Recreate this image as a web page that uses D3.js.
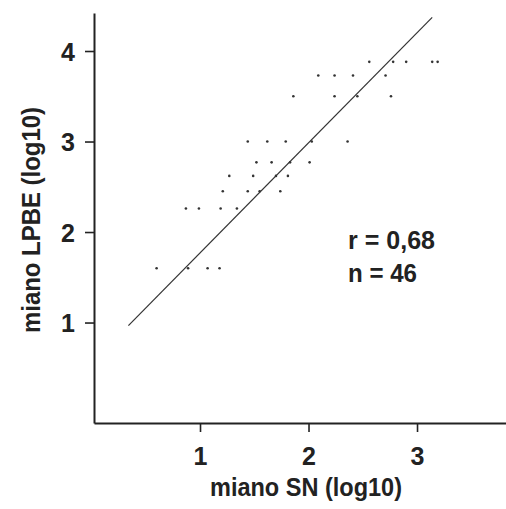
<!DOCTYPE html>
<html>
<head>
<meta charset="utf-8">
<script src="https://cdn.jsdelivr.net/npm/d3@7"></script>
<style>
  body { margin: 0; background: #fff; }
  svg text {
    font-family: "Liberation Sans", Arial, sans-serif;
    font-weight: bold;
    fill: #222;
  }
</style>
</head>
<body>
<svg id="chart" width="506" height="509"></svg>
<script>
// miano SN (log10) vs miano LPBE (log10)
const snValues = [
  2.56, 2.78, 2.90, 3.14, 3.19,
  2.09, 2.24, 2.41, 2.71,
  1.86, 2.24, 2.45, 2.76,
  1.44, 1.62, 1.79, 2.03, 2.36,
  1.52, 1.66, 1.83, 2.01,
  1.27, 1.49, 1.70, 1.81,
  1.21, 1.44, 1.55, 1.74,
  0.87, 0.99, 1.19, 1.34,
  0.60, 0.89, 1.07, 1.18
];
const lpbeValues = [
  3.88, 3.88, 3.88, 3.88, 3.88,
  3.73, 3.73, 3.73, 3.73,
  3.50, 3.50, 3.50, 3.50,
  3.00, 3.00, 3.00, 3.00, 3.00,
  2.77, 2.77, 2.77, 2.77,
  2.62, 2.62, 2.62, 2.62,
  2.45, 2.45, 2.45, 2.45,
  2.26, 2.26, 2.26, 2.26,
  1.60, 1.60, 1.60, 1.60
];
const xTicks = [1, 2, 3];
const yTicks = [1, 2, 3, 4];
const fitRange = [0.34, 3.14];
const fitIntercept = 0.553;
const fitSlope = 1.216;
const statsLines = ["r = 0,68", "n = 46"];
const xTitle = "miano SN (log10)";
const yTitle = "miano LPBE (log10)";

const svg = d3.select("#chart");
const margin = { left: 94, top: 13, right: 0, bottom: 86 };
const width = 506, height = 509;

const x = d3.scaleLinear()
  .domain([0.023, 3.82])
  .range([margin.left, width - margin.right]);
const y = d3.scaleLinear()
  .domain([-0.11, 4.42])
  .range([height - margin.bottom, margin.top]);

// condensed look: squeeze the text to the widths seen in the scan
function squeeze(sel, w) {
  sel.attr("textLength", w).attr("lengthAdjust", "spacingAndGlyphs");
}

// axes
const xAxis = svg.append("g")
  .attr("transform", `translate(0,${height - margin.bottom})`)
  .call(d3.axisBottom(x).tickValues(xTicks).tickFormat(d3.format("d"))
    .tickSize(9).tickSizeOuter(0).tickPadding(14));
const yAxis = svg.append("g")
  .attr("transform", `translate(${margin.left},0)`)
  .call(d3.axisLeft(y).tickValues(yTicks).tickFormat(d3.format("d"))
    .tickSize(9).tickSizeOuter(0).tickPadding(10));

[xAxis, yAxis].forEach(ax => {
  ax.select(".domain").attr("stroke", "#222").attr("stroke-width", 2);
  ax.selectAll(".tick line").attr("stroke", "#222").attr("stroke-width", 1.6);
  ax.selectAll(".tick text")
    .style("font-size", "25px")
    .attr("fill", "#222");
});
xAxis.selectAll(".tick text").attr("dy", "0.75em");
yAxis.selectAll(".tick text").attr("dy", "0.36em");

// axis titles
svg.append("text")
  .attr("x", 306)
  .attr("y", 496)
  .attr("text-anchor", "middle")
  .style("font-size", "25px")
  .text(xTitle)
  .call(squeeze, 192);

svg.append("text")
  .attr("transform", `translate(40,220) rotate(-90)`)
  .attr("text-anchor", "middle")
  .style("font-size", "25px")
  .text(yTitle)
  .call(squeeze, 226);

// regression line
const fitLine = d3.line()
  .x(d => x(d))
  .y(d => y(fitIntercept + fitSlope * d));
svg.append("path")
  .datum(fitRange)
  .attr("d", fitLine)
  .attr("fill", "none")
  .attr("stroke", "#333")
  .attr("stroke-width", 1.2);

// points
svg.append("g")
  .selectAll("circle")
  .data(snValues.map((v, i) => [v, lpbeValues[i]]))
  .join("circle")
  .attr("cx", d => x(d[0]))
  .attr("cy", d => y(d[1]))
  .attr("r", 1.3)
  .attr("fill", "#333");

// stats
const statsWidths = [87, 69];
svg.append("g")
  .selectAll("text")
  .data(statsLines)
  .join("text")
  .attr("x", 348)
  .attr("y", (d, i) => 249 + i * 33)
  .style("font-size", "25px")
  .text(d => d)
  .each(function(d, i) { d3.select(this).call(squeeze, statsWidths[i]); });
</script>
</body>
</html>
